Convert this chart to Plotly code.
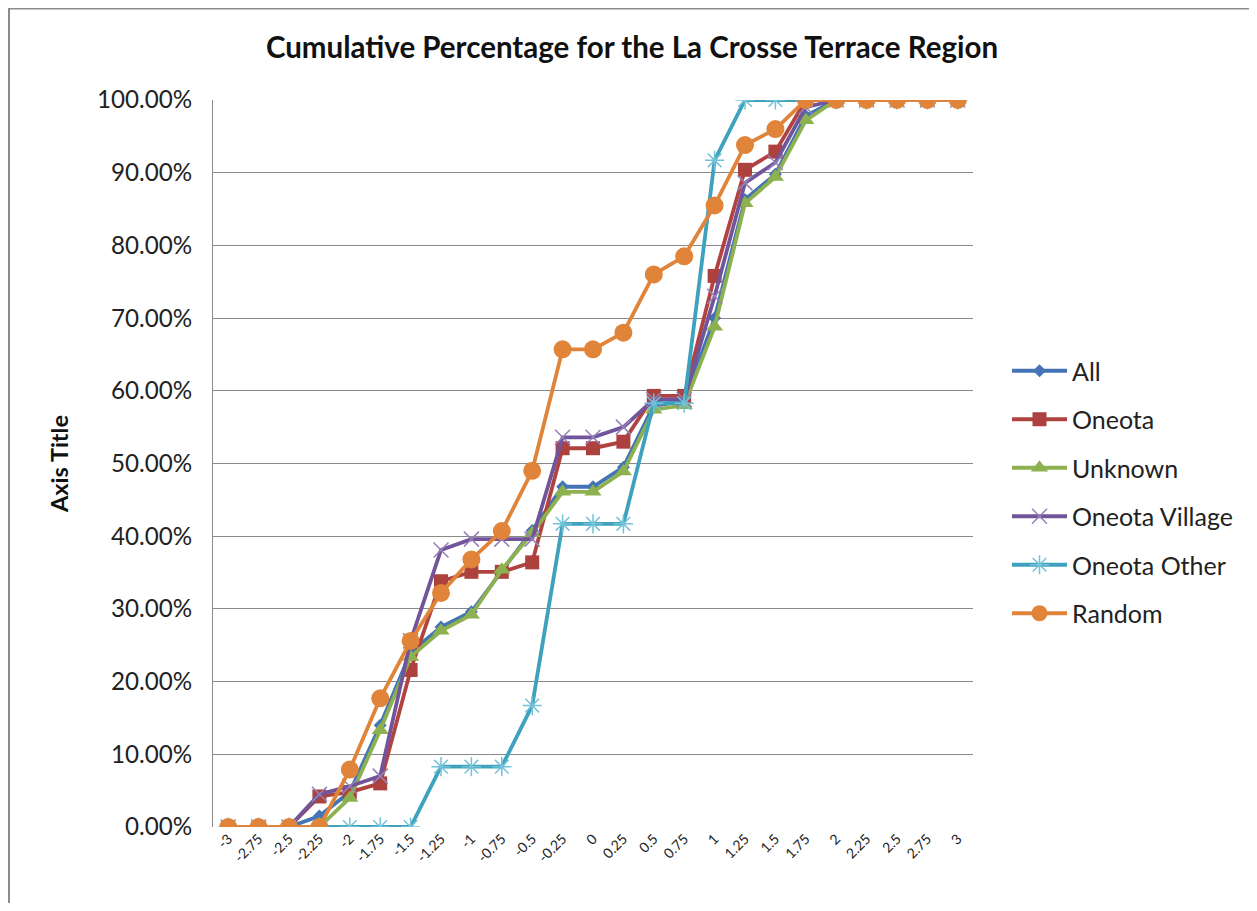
import plotly.graph_objects as go

categories = ["-3", "-2.75", "-2.5", "-2.25", "-2", "-1.75", "-1.5", "-1.25", "-1", "-0.75",
              "-0.5", "-0.25", "0", "0.25", "0.5", "0.75", "1", "1.25", "1.5", "1.75",
              "2", "2.25", "2.5", "2.75", "3"]

all_pct = [0, 0, 0, 1.5, 4.8, 14.0, 24.0, 27.5, 29.6, 35.2, 40.8, 46.8, 46.8, 49.5, 58.0, 58.5,
           70.0, 86.3, 89.8, 97.8, 100, 100, 100, 100, 100]
oneota = [0, 0, 0, 4.2, 4.8, 6.0, 21.6, 33.8, 35.1, 35.1, 36.4, 52.1, 52.1, 53.0, 59.3, 59.3,
          75.8, 90.4, 92.9, 100, 100, 100, 100, 100, 100]
unknown = [0, 0, 0, 0, 4.0, 13.3, 23.4, 27.0, 29.2, 35.4, 40.4, 46.1, 46.1, 48.9, 57.4, 58.0,
           68.8, 85.8, 89.4, 97.2, 100, 100, 100, 100, 100]
oneota_village = [0, 0, 0, 4.5, 5.6, 7.0, 25.6, 38.1, 39.6, 39.6, 39.6, 53.6, 53.6, 55.0, 58.8, 58.8,
                  73.0, 88.6, 91.4, 99.0, 100, 100, 100, 100, 100]
oneota_other = [0, 0, 0, 0, 0, 0, 0, 8.3, 8.3, 8.3, 16.7, 41.7, 41.7, 41.7, 58.3, 58.3,
                91.7, 100, 100, 100, 100, 100, 100, 100, 100]
random_pct = [0, 0, 0, 0, 7.9, 17.7, 25.6, 32.2, 36.8, 40.7, 49.0, 65.7, 65.7, 68.0, 76.0, 78.5,
              85.5, 93.8, 96.0, 100, 100, 100, 100, 100, 100]

series = [
    ("All", all_pct, "#4374B5", dict(symbol="diamond", size=10, color="#4374B5")),
    ("Oneota", oneota, "#B0433F", dict(symbol="square", size=14, color="#AC413E")),
    ("Unknown", unknown, "#8EB150", dict(symbol="triangle-up", size=15, color="#8EB150")),
    ("Oneota Village", oneota_village, "#71549A",
     dict(symbol="x-thin-open", size=15, color="#9580B8", line=dict(width=1.5, color="#9580B8"))),
    ("Oneota Other", oneota_other, "#3EA2BE",
     dict(symbol="asterisk-open", size=16, color="#72C2D8", line=dict(width=1.5, color="#72C2D8"))),
    ("Random", random_pct, "#E0843A", dict(symbol="circle", size=18, color="#E0843A")),
]

fig = go.Figure()
for i, (name, vals, col, mk) in enumerate(series):
    fig.add_trace(go.Scatter(
        x=categories, y=[v / 100 for v in vals], name=name, mode="lines+markers",
        line=dict(color=col, width=3.8), marker=mk, legendgroup=f"g{i}",
    ))

# figure is placed by the page at an 8px offset; sizes below are in figure px
W, H = 1249, 895
L, R, T, B = 205, W - 965, 92, H - 819
PW, PH = 965 - 205, 819 - 92

fig.update_layout(
    width=W, height=H,
    paper_bgcolor="white", plot_bgcolor="white",
    margin=dict(l=L, r=R, t=T, b=B, autoexpand=False),
    font=dict(family="Lato, 'Open Sans', sans-serif", color="#222222"),
    title=dict(text="<b>Cumulative Percentage for the La Crosse Terrace Region</b>",
               xref="container", x=624 / W, xanchor="center", y=1 - 40 / H, yanchor="middle",
               font=dict(size=29.5, color="#111111")),
    legend=dict(x=(999 - L) / PW, xanchor="left", y=(819 - 484) / PH, yanchor="middle",
                font=dict(size=25, color="#222222"), itemwidth=55,
                tracegroupgap=13, bgcolor="rgba(0,0,0,0)"),
    showlegend=True,
)

fig.update_xaxes(
    type="category", range=[-0.5, 24.5], tickangle=-45,
    tickfont=dict(size=14, color="#222222"),
    showgrid=False, showline=False, zeroline=False, ticks="",
)
fig.update_yaxes(
    range=[0, 1.0], dtick=0.1, tick0=0, tickformat=".2%",
    tickfont=dict(size=24.2, color="#222222"),
    showgrid=True, gridcolor="#898989", gridwidth=1,
    showline=True, linecolor="#898989", linewidth=1,
    zeroline=False, ticks="", ticklabelstandoff=15,
    title=dict(text="<b>Axis Title</b>", font=dict(size=23.5, color="#111111"), standoff=21),
)

# outer chart border
fig.add_shape(type="rect", xref="paper", yref="paper",
              x0=(1 - L) / PW, x1=(1246 - L) / PW,
              y0=(819 - 920) / PH, y1=(819 - 0.5) / PH,
              line=dict(color="#8C8C8C", width=2), fillcolor="rgba(0,0,0,0)", layer="below")

fig.write_html("out.html")
